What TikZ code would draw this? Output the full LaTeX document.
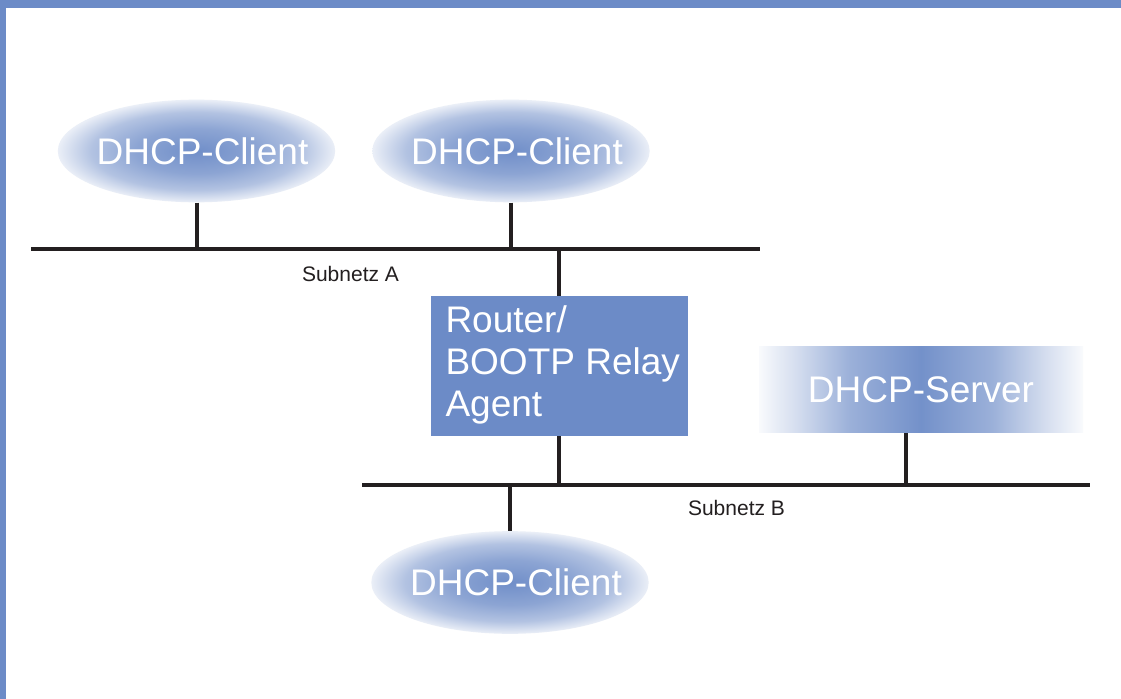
\documentclass[tikz,border=0pt]{standalone}
\usepackage{fontspec}
\setmainfont{Liberation Sans}
\usetikzlibrary{shapes.geometric}
\definecolor{barblue}{HTML}{6C8BC7}
\definecolor{linegray}{HTML}{231F20}
\colorlet{fadeA}{barblue!4!white}
\colorlet{fadeB}{barblue!30!white}
\colorlet{fadeC}{barblue!68!white}
\colorlet{fadeD}{barblue!95!white}
\colorlet{glowA}{barblue!97!white}
\colorlet{glowB}{barblue!78!white}
\colorlet{glowC}{barblue!52!white}
\colorlet{glowD}{barblue!14!white}
\pgfdeclarehorizontalshading{serverfade}{100bp}{color(0bp)=(fadeA); color(25bp)=(fadeA);
    color(31bp)=(fadeB); color(39bp)=(fadeC); color(50bp)=(fadeD);
    color(61bp)=(fadeC); color(69bp)=(fadeB); color(75bp)=(fadeA); color(100bp)=(fadeA)}
\pgfdeclareradialshading{clientglow}{\pgfpoint{0bp}{0bp}}{color(0bp)=(glowA);
    color(11bp)=(glowB); color(19bp)=(glowC); color(25bp)=(glowD); color(50bp)=(glowD)}

\newcommand{\clienttext}{\makebox[0pt]{\hspace*{9pt}DHCP-Client}}

\tikzset{
    client/.style={ellipse, minimum width=208pt, minimum height=77pt, inner sep=0pt,
        shading=clientglow, text=white, font=\fontsize{27.75}{31.5}\selectfont},
    net/.style={line width=3pt, draw=linegray},
    netlabel/.style={font=\fontsize{15.75}{18}\selectfont, text=linegray}
}

\begin{document}
\begin{tikzpicture}[x=0.75pt,y=-0.75pt]
    % Frame
    \useasboundingbox (0,0) rectangle (1121,699);
    \fill[white] (0,0) rectangle (1121,699);
    \fill[barblue] (0,0) rectangle (1121,8);
    \fill[barblue] (0,0) rectangle (6,699);

    % Clients, router, server
    \node[client] (clientA) at (196.5,151) {\clienttext};
    \node[client] (clientB) at (511,151) {\clienttext};
    \node[client] (clientC) at (510,582.5) {\clienttext};

    \node[fill=barblue, text=white, inner sep=0pt, minimum width=192.75pt,
          minimum height=105pt, font=\fontsize{27.75}{31.5}\selectfont] (router) at (559,366)
        {\makebox[192.75pt][l]{\begin{tabular}{@{\hspace{11.25pt}}l@{}}Router/\\BOOTP Relay\\Agent\end{tabular}}};

    \node[minimum width=243pt, minimum height=65pt, text=white, shading=serverfade,
          font=\fontsize{27.75}{31.5}\selectfont] (server) at (921,389.5) {DHCP-Server};

    % Subnets
    \coordinate (netA1) at (31,249);
    \coordinate (netA2) at (760,249);
    \coordinate (netB1) at (362,485);
    \coordinate (netB2) at (1090,485);
    \coordinate (serverdrop) at (906,485);

    \draw[net] (netA1) -- (netA2);
    \draw[net] (netB1) -- (netB2);

    \draw[net] (clientA.south) -- (clientA.south |- netA1);
    \draw[net] (clientB.south) -- (clientB.south |- netA1);
    \draw[net] (router.north) -- (router.north |- netA1);
    \draw[net] (router.south) -- (router.south |- netB1);
    \draw[net] (clientC.north) -- (clientC.north |- netB1);
    \draw[net] (serverdrop |- server.south) -- (serverdrop);

    \node[netlabel] (labelA) at (350.5,274) {Subnetz A};
    \node[netlabel] (labelB) at (736.5,508) {Subnetz B};

\end{tikzpicture}
\end{document}
